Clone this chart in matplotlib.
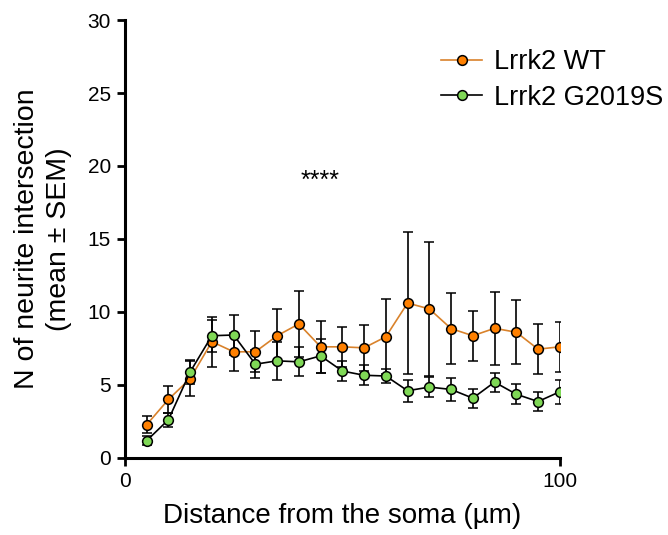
import numpy as np
import matplotlib.pyplot as plt
from matplotlib.lines import Line2D

plt.rcParams['font.family'] = ['Liberation Sans', 'DejaVu Sans']

# distance from soma (um)
distance = [5, 10, 15, 20, 25, 30, 35, 40, 45, 50,
            55, 60, 65, 70, 75, 80, 85, 90, 95, 100]

wt_mean = [2.26, 3.99, 5.42, 7.95, 7.26, 7.26, 8.36, 9.17, 7.6, 7.6,
           7.53, 8.29, 10.6, 10.2, 8.85, 8.36, 8.87, 8.6, 7.44, 7.6]
wt_sem = [0.6, 0.9, 1.2, 1.7, 1.32, 1.4, 1.85, 2.26, 1.8, 1.38,
          1.57, 2.56, 4.84, 4.57, 2.42, 1.73, 2.5, 2.18, 1.73, 1.73]

g2019s_mean = [1.17, 2.6, 5.88, 8.36, 8.41, 6.41, 6.64, 6.57, 6.98, 5.94,
               5.65, 5.6, 4.59, 4.84, 4.68, 4.08, 5.18, 4.35, 3.85, 4.52]
g2019s_sem = [0.3, 0.47, 0.8, 1.1, 1.4, 0.97, 1.3, 1.0, 1.15, 0.7,
              0.67, 0.5, 0.75, 0.7, 0.76, 0.66, 0.65, 0.68, 0.65, 0.82]

wt_fill, wt_line = '#FF8000', '#D9822B'
mut_fill, mut_line = '#7FD856', 'black'

fig = plt.figure(figsize=(6.68, 5.35), dpi=100)
ax = fig.add_axes([0.187, 0.1445, 0.651, 0.818])

ax.errorbar(distance, wt_mean, yerr=wt_sem, color=wt_line, lw=1.2,
            marker='o', ms=7, mfc=wt_fill, mec='black', mew=1.1,
            ecolor='black', elinewidth=1.2, capsize=3.5, capthick=1.2,
            zorder=3)
ax.errorbar(distance, g2019s_mean, yerr=g2019s_sem, color=mut_line, lw=1.2,
            marker='o', ms=7, mfc=mut_fill, mec='black', mew=1.1,
            ecolor='black', elinewidth=1.2, capsize=3.5, capthick=1.2,
            zorder=3)

ax.text(45, 19.0, '****', ha='center', va='center', fontsize=18)

ax.set_xlim(0, 100)
ax.set_ylim(0, 30)
ax.set_xticks([0, 100])
ax.set_yticks([0, 5, 10, 15, 20, 25, 30])
for s in ['top', 'right']:
    ax.spines[s].set_visible(False)
for s in ['left', 'bottom']:
    ax.spines[s].set_linewidth(2.2)
ax.tick_params(width=2, length=6, labelsize=15, pad=4)

ax.set_xlabel('Distance from the soma (µm)', fontsize=20, labelpad=9)
ax.set_ylabel('N of neurite intersection\n(mean ± SEM)', fontsize=20.5,
              labelpad=11, linespacing=1.3)

handles = [
    Line2D([], [], color=wt_line, lw=1.2, marker='o', ms=7, mfc=wt_fill,
           mec='black', mew=1.1),
    Line2D([], [], color=mut_line, lw=1.2, marker='o', ms=7, mfc=mut_fill,
           mec='black', mew=1.1),
]
ax.legend(handles, ['Lrrk2 WT', 'Lrrk2 G2019S'], loc='upper left',
          bbox_to_anchor=(0.69, 0.97), frameon=False, fontsize=19.5,
          handlelength=1.5, handletextpad=0.45, labelspacing=0.35,
          borderaxespad=0.2)

fig.savefig('out.png', dpi=100)
